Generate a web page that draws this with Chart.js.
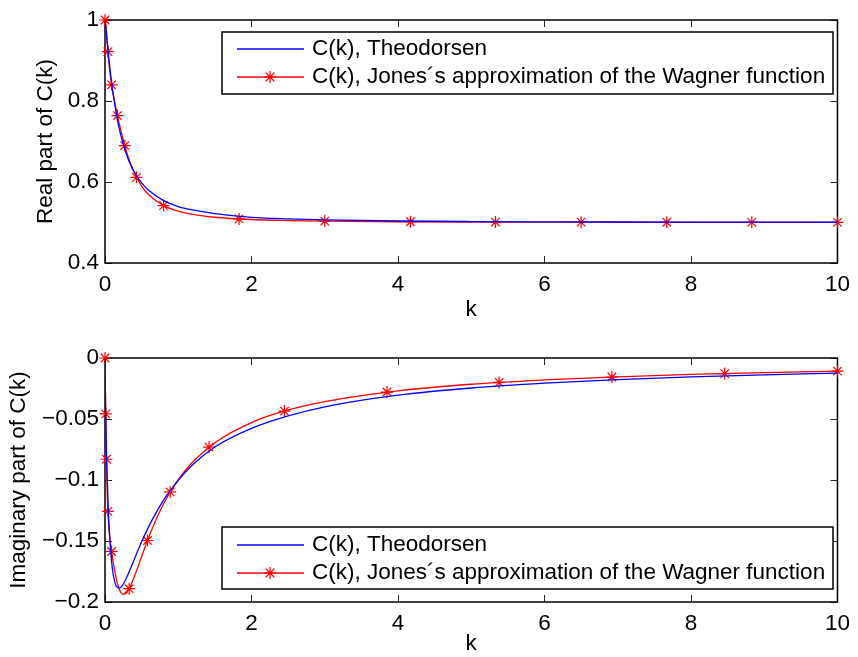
<!DOCTYPE html>
<html>
<head>
<meta charset="utf-8">
<script src="https://cdn.jsdelivr.net/npm/chart.js@4.4.0/dist/chart.umd.min.js"></script>
<style>
  body { margin: 0; background: #fff; }
  canvas { position: absolute; left: 0; }
  #realChart { top: 0; }
  #imagChart { top: 330px; }
</style>
</head>
<body>
<canvas id="realChart" width="858" height="330"></canvas>
<canvas id="imagChart" width="858" height="327"></canvas>
<script>
// Theodorsen function C(k) = F + iG
const kTheo = [0, 0.005, 0.01, 0.02, 0.025, 0.03, 0.04, 0.05, 0.06, 0.08, 0.1, 0.12, 0.16, 0.2, 0.24, 0.3, 0.34, 0.4, 0.5, 0.6, 0.8, 1.0, 1.2, 1.5, 2, 2.5, 3, 4, 5, 6, 7, 8, 9, 10];
const reTheo = [1, 0.991, 0.9824, 0.9637, 0.9545, 0.9453, 0.9267, 0.909, 0.892, 0.8604, 0.8319, 0.8063, 0.7628, 0.7276, 0.6995, 0.665, 0.6469, 0.625, 0.5979, 0.5788, 0.5541, 0.5394, 0.531, 0.522, 0.5129, 0.5088, 0.5063, 0.5037, 0.5024, 0.5017, 0.5012, 0.501, 0.5008, 0.5006];
const imTheo = [0, -0.028, -0.0482, -0.076, -0.0872, -0.097, -0.116, -0.1305, -0.1426, -0.1604, -0.1723, -0.1801, -0.1876, -0.1886, -0.1862, -0.1793, -0.1738, -0.165, -0.1507, -0.1378, -0.1165, -0.1003, -0.0873, -0.0729, -0.0577, -0.0475, -0.04, -0.0305, -0.0246, -0.0206, -0.0177, -0.0155, -0.0138, -0.0124];

// Jones' approximation of the Wagner function
const kJones = [0, 0.005, 0.01, 0.02, 0.03, 0.04, 0.05, 0.06, 0.08, 0.1, 0.12, 0.16, 0.2, 0.24, 0.28, 0.3, 0.34, 0.4, 0.5, 0.6, 0.8, 1.0, 1.2, 1.5, 2, 2.5, 3, 4, 5, 6, 7, 8, 9, 10];
const reJones = [1, 0.9979, 0.992, 0.9718, 0.9467, 0.9222, 0.9007, 0.8823, 0.8531, 0.8298, 0.8095, 0.7731, 0.74, 0.71, 0.6832, 0.6712, 0.6495, 0.6227, 0.59, 0.5679, 0.5418, 0.528, 0.5199, 0.513, 0.5074, 0.5048, 0.5034, 0.5019, 0.5012, 0.5009, 0.5006, 0.5005, 0.5004, 0.5003];
const imJones = [0, -0.0235, -0.0458, -0.083, -0.109, -0.1257, -0.1364, -0.1438, -0.1543, -0.1627, -0.1702, -0.1825, -0.1903, -0.1936, -0.1932, -0.192, -0.1879, -0.1793, -0.1627, -0.1464, -0.1195, -0.0997, -0.0851, -0.0694, -0.0529, -0.0426, -0.0357, -0.0269, -0.0215, -0.018, -0.0154, -0.0135, -0.012, -0.0108];

// marker points on the Jones curves
const kMarkRe = [0, 0.04, 0.09, 0.17, 0.27, 0.43, 0.8, 1.83, 3.0, 4.17, 5.33, 6.5, 7.67, 8.83, 10];
const reMark = [1, 0.922, 0.84, 0.764, 0.69, 0.6115, 0.5418, 0.5088, 0.5034, 0.5018, 0.5011, 0.5008, 0.5006, 0.5004, 0.5003];
const kMarkIm = [0, 0.01, 0.02, 0.04, 0.09, 0.33, 0.58, 0.89, 1.42, 2.45, 3.85, 5.38, 6.92, 8.46, 10];
const imMark = [0, -0.0458, -0.083, -0.1257, -0.1586, -0.1891, -0.1496, -0.1098, -0.073, -0.0435, -0.0279, -0.02, -0.0156, -0.0128, -0.0108];

const kTicks = { min: 0, max: 10, step: 2 };
const labelTheo = "C(k), Theodorsen";
const labelJones = "C(k), Jones\u00b4s approximation of the Wagner function";

const FONT = "'Liberation Sans', Arial, Helvetica, sans-serif";
const FONT_SIZE = 22.5;
const BLUE = "#0000ff";
const RED = "#ff0000";

function pts(xs, ys) {
  return xs.map((x, i) => ({ x: x, y: ys[i] }));
}

function drawStar(ctx, x, y, r) {
  ctx.beginPath();
  for (let a = 0; a < 4; a++) {
    let t = a * Math.PI / 4;
    ctx.moveTo(x - r * Math.cos(t), y - r * Math.sin(t));
    ctx.lineTo(x + r * Math.cos(t), y + r * Math.sin(t));
  }
  ctx.stroke();
}

function fmtTick(v) {
  return String(Number(v.toFixed(2))).replace("-", "\u2212");
}

// box round the axes, inward tick marks and the legend
const matlabAxes = {
  id: "matlabAxes",
  beforeDatasetsDraw(chart) {
    let { ctx, chartArea: a, scales } = chart;
    let len = 7;
    ctx.save();
    ctx.strokeStyle = "#262626";
    ctx.lineWidth = 1;
    ctx.beginPath();
    scales.x.ticks.forEach((t) => {
      let px = Math.round(scales.x.getPixelForValue(t.value)) + 0.5;
      ctx.moveTo(px, a.bottom);
      ctx.lineTo(px, a.bottom - len);
      ctx.moveTo(px, a.top);
      ctx.lineTo(px, a.top + len);
    });
    scales.y.ticks.forEach((t) => {
      let py = Math.round(scales.y.getPixelForValue(t.value)) + 0.5;
      ctx.moveTo(a.left, py);
      ctx.lineTo(a.left + len, py);
      ctx.moveTo(a.right, py);
      ctx.lineTo(a.right - len, py);
    });
    ctx.stroke();
    ctx.strokeStyle = "#000";
    ctx.lineWidth = 1.5;
    ctx.strokeRect(a.left, a.top, a.right - a.left, a.bottom - a.top);
    ctx.restore();
  },
  afterDraw(chart, args, opts) {
    let ctx = chart.ctx;
    ctx.save();
    ctx.fillStyle = "#fff";
    ctx.fillRect(opts.x, opts.y, opts.w, opts.h);
    ctx.strokeStyle = "#000";
    ctx.lineWidth = 1.5;
    ctx.strokeRect(opts.x, opts.y, opts.w, opts.h);

    let rows = [
      { text: labelTheo, color: BLUE, star: false },
      { text: labelJones, color: RED, star: true },
    ];
    ctx.font = FONT_SIZE + "px " + FONT;
    ctx.textBaseline = "middle";
    ctx.textAlign = "left";
    rows.forEach((r, i) => {
      let y = opts.y + opts.row0 + i * opts.rowGap;
      ctx.strokeStyle = r.color;
      ctx.lineWidth = 1.3;
      ctx.beginPath();
      ctx.moveTo(opts.x + 15, y);
      ctx.lineTo(opts.x + 82, y);
      ctx.stroke();
      if (r.star) {
        ctx.lineWidth = 1.2;
        drawStar(ctx, opts.x + 48, y, 6);
      }
      ctx.fillStyle = "#000";
      ctx.fillText(r.text, opts.x + 90, y);
    });
    ctx.restore();
  },
};

function makeChart(id, cfg) {
  let ctx = document.getElementById(id).getContext("2d");
  return new Chart(ctx, {
    type: "line",
    data: {
      datasets: [
        {
          label: labelTheo,
          data: pts(kTheo, cfg.theo),
          borderColor: BLUE,
          borderWidth: 1.3,
          pointRadius: 0,
          cubicInterpolationMode: "monotone",
        },
        {
          label: labelJones,
          data: pts(kJones, cfg.jones),
          borderColor: RED,
          borderWidth: 1.3,
          pointRadius: 0,
          cubicInterpolationMode: "monotone",
        },
        {
          label: "markers",
          data: pts(cfg.markK, cfg.markV),
          showLine: false,
          pointStyle: "star",
          pointRadius: 6,
          pointBorderWidth: 1.2,
          pointBorderColor: RED,
          pointBackgroundColor: RED,
          clip: false,
        },
      ],
    },
    options: {
      responsive: false,
      animation: false,
      events: [],
      layout: { padding: { top: cfg.top, right: 13, left: 0, bottom: 0 } },
      plugins: {
        legend: { display: false },
        tooltip: { enabled: false },
        matlabAxes: cfg.legend,
      },
      scales: {
        x: {
          type: "linear",
          min: kTicks.min,
          max: kTicks.max,
          grid: { display: false, drawTicks: false },
          border: { display: false },
          ticks: {
            stepSize: kTicks.step,
            padding: 8,
            color: "#000",
            font: { family: FONT, size: FONT_SIZE },
          },
          title: {
            display: true,
            text: "k",
            color: "#000",
            font: { family: FONT, size: FONT_SIZE },
            padding: { top: 0, bottom: cfg.kPad },
          },
          afterFit(scale) {
            scale.height = cfg.xHeight;
          },
        },
        y: {
          min: cfg.yMin,
          max: cfg.yMax,
          grid: { display: false, drawTicks: false },
          border: { display: false },
          ticks: {
            stepSize: cfg.yStep,
            padding: 6,
            color: "#000",
            font: { family: FONT, size: FONT_SIZE },
            callback: (v) => fmtTick(v),
          },
          title: {
            display: true,
            text: cfg.yTitle,
            color: "#000",
            font: { family: FONT, size: FONT_SIZE },
            padding: { top: cfg.yTitlePad, bottom: 0 },
          },
          afterFit(scale) {
            scale.width = 105;
          },
        },
      },
    },
    plugins: [matlabAxes],
  });
}

makeChart("realChart", {
  theo: reTheo,
  jones: reJones,
  markK: kMarkRe,
  markV: reMark,
  yMin: 0.4,
  yMax: 1,
  yStep: 0.2,
  yTitle: "Real part of C(k)",
  yTitlePad: 32,
  top: 20,
  xHeight: 67,
  kPad: 7,
  legend: { x: 222, y: 32, w: 611, h: 62, row0: 17, rowGap: 28 },
});

makeChart("imagChart", {
  theo: imTheo,
  jones: imJones,
  markK: kMarkIm,
  markV: imMark,
  yMin: -0.2,
  yMax: 0,
  yStep: 0.05,
  yTitle: "Imaginary part of C(k)",
  yTitlePad: 5,
  top: 28,
  xHeight: 55,
  kPad: 0,
  legend: { x: 222, y: 197, w: 611, h: 62, row0: 18, rowGap: 28 },
});
</script>
</body>
</html>
